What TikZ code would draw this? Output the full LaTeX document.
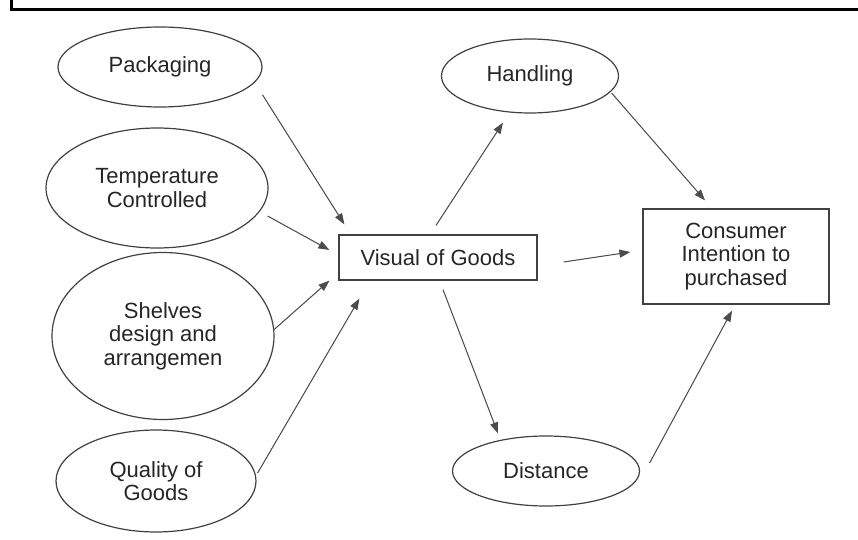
\documentclass[tikz,border=0pt]{standalone}
\usepackage{fontspec}
\setmainfont{Liberation Sans}
\usetikzlibrary{shapes.geometric, arrows.meta}

\begin{document}
\begin{tikzpicture}[
    x=1pt, y=1pt,
    factor/.style={
        ellipse,
        draw=black!75,
        line width=1.2pt,
        inner sep=0pt,
        align=center,
        text=black!85,
        font=\fontsize{22}{23.5}\selectfont
    },
    block/.style={
        rectangle,
        draw=black!75,
        line width=1.2pt,
        inner sep=0pt,
        align=center,
        text=black!85,
        font=\fontsize{22}{23.5}\selectfont
    },
    link/.style={
        -{Triangle[length=11pt,width=8pt]},
        line width=1pt,
        draw=black!70,
        fill=black!85
    }
]
    \useasboundingbox (0,0) rectangle (858,539);

    % Frame (top and left edges only)
    \draw[line width=3pt] (11,539) -- (11,529) -- (858,529);

    % Left-hand factors
    \node[factor, minimum width=204pt, minimum height=80pt] (pack) at (160,472) {Packaging};
    \node[factor, minimum width=222pt, minimum height=120pt] (temp) at (157,351) {Temperature\\Controlled};
    \node[factor, minimum width=222pt, minimum height=167pt] (shelf) at (163,203) {Shelves\\design and\\arrangemen};
    \node[factor, minimum width=200pt, minimum height=102pt] (qual) at (156,58) {Quality of\\Goods};

    % Centre
    \node[block, minimum width=198pt, minimum height=45pt] (vis) at (438,281.5) {Visual of Goods};

    % Mediators
    \node[factor, minimum width=177pt, minimum height=74pt] (hand) at (530,463) {Handling};
    \node[factor, minimum width=187pt, minimum height=70pt] (dist) at (546,68) {Distance};

    % Outcome
    \node[block, minimum width=186pt, minimum height=95pt] (cons) at (736,282.5) {Consumer\\Intention to\\purchased};

    % Factors into visual of goods
    \draw[link] ([yshift=-28pt]pack.east) -- ([shift={(6pt,10pt)}]vis.north west);
    \draw[link] ([shift={(-1pt,-28pt)}]temp.east) -- ([shift={(-9pt,7.5pt)}]vis.west);
    \draw[link] ([shift={(-1pt,6pt)}]shelf.east) -- ([xshift=-9pt]vis.south west);
    \draw[link] ([shift={(1pt,8pt)}]qual.east) -- ([shift={(21pt,-18pt)}]vis.south west);

    % Visual of goods outwards
    \draw[link] ([shift={(-2pt,9pt)}]vis.north) -- ([shift={(-27pt,-9pt)}]hand.south);
    \draw[link] ([shift={(26pt,-4.5pt)}]vis.east) -- ([shift={(-12pt,4.5pt)}]cons.west);
    \draw[link] ([shift={(5pt,-9pt)}]vis.south) -- ([shift={(-48pt,2pt)}]dist.north);

    % Mediators into intention
    \draw[link] ([shift={(-7.5pt,-17pt)}]hand.east) -- ([shift={(-31pt,8pt)}]cons.north);
    \draw[link] ([shift={(9.5pt,8pt)}]dist.east) -- ([shift={(-4pt,-6pt)}]cons.south);

\end{tikzpicture}
\end{document}
